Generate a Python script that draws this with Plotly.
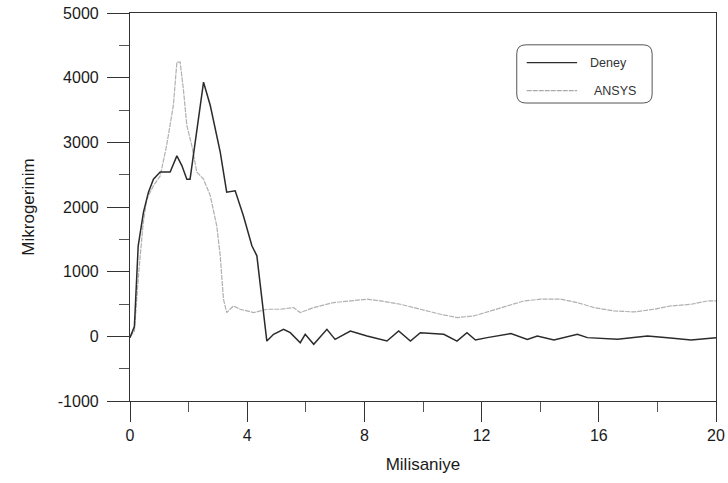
import plotly.graph_objects as go

# ---- data ----
deney_t = [0, 0.15, 0.28, 0.46, 0.63, 0.8, 1.03, 1.37, 1.6, 1.77, 1.94, 2.05, 2.51, 2.74,
           3.08, 3.3, 3.59, 3.87, 4.16, 4.33, 4.67, 4.9, 5.24, 5.47, 5.81, 5.98, 6.27,
           6.72, 7.0, 7.52, 8.09, 8.77, 9.17, 9.57, 9.91, 10.71, 11.16, 11.5, 11.79,
           12.19, 13.0, 13.56, 13.9, 14.47, 15.27, 15.61, 16.64, 17.66, 18.35, 19.15, 20]
deney_v = [-20, 150, 1400, 1920, 2230, 2430, 2540, 2540, 2790, 2640, 2430, 2430, 3930, 3570,
           2850, 2230, 2250, 1865, 1400, 1245, -73, 31, 108, 57, -98, 31, -124,
           108, -47, 82, 5, -73, 82, -73, 57, 31, -73, 57, -57,
           -20, 42, -47, 5, -57, 31, -20, -47, 5, -20, -57, -20]

ansys_t = [0, 0.15, 0.3, 0.45, 0.57, 0.8, 1.03, 1.25, 1.48, 1.6, 1.71, 1.82, 1.94, 2.11,
           2.28, 2.51, 2.74, 2.96, 3.08, 3.19, 3.3, 3.53, 3.76, 4.22, 4.67, 5.13, 5.58,
           5.81, 6.27, 6.95, 7.52, 8.09, 8.55, 9.23, 9.91, 10.6, 11.17, 11.73, 12.31,
           12.88, 13.45, 14.02, 14.7, 15.27, 15.84, 16.52, 17.21, 17.89, 18.46, 19.15,
           19.72, 20]
ansys_v = [0, 80, 1000, 1750, 2120, 2330, 2480, 2950, 3570, 4240, 4240, 3830, 3260, 2950,
           2540, 2430, 2175, 1710, 1245, 574, 367, 470, 419, 367, 419, 419, 445,
           367, 445, 522, 548, 574, 548, 496, 419, 341, 290, 315, 393,
           470, 548, 574, 574, 522, 445, 393, 377, 419, 470, 496,
           548, 548]

x_ticks = [0, 4, 8, 12, 16, 20]
y_ticks = [-1000, 0, 1000, 2000, 3000, 4000, 5000]

fig = go.Figure()
fig.add_trace(go.Scatter(x=ansys_t, y=ansys_v, mode="lines", name="ANSYS",
                         line=dict(color="#b0b0b0", width=1.2, dash="5px,1px")))
fig.add_trace(go.Scatter(x=deney_t, y=deney_v, mode="lines", name="Deney",
                         line=dict(color="#2b2b2b", width=1.5)))

axis_font = dict(family="Liberation Sans, Arial, sans-serif", size=16, color="#1a1a1a")
title_font = dict(family="Liberation Sans, Arial, sans-serif", size=17, color="#1a1a1a")

fig.update_xaxes(range=[0, 20], tickvals=x_ticks, ticktext=[str(v) for v in x_ticks],
                 ticks="outside", ticklen=20, tickwidth=1.2, tickcolor="#333",
                 minor=dict(dtick=2, ticks="outside", ticklen=10, tickwidth=1, tickcolor="#555"),
                 showline=True, linecolor="#333", linewidth=1.2, mirror=True,
                 showgrid=False, zeroline=False, tickfont=axis_font, automargin=False,
                 title=dict(text="Milisaniye", font=title_font, standoff=14))
fig.update_yaxes(range=[-1000, 5000], tickvals=y_ticks, ticktext=[str(v) for v in y_ticks],
                 ticks="outside", ticklen=22, tickwidth=1.2, tickcolor="#333",
                 minor=dict(dtick=500, ticks="outside", ticklen=10, tickwidth=1, tickcolor="#555"),
                 showline=True, linecolor="#333", linewidth=1.2, mirror=True,
                 showgrid=False, zeroline=False, tickfont=axis_font, automargin=False,
                 ticklabelstandoff=5,
                 title=dict(text="Mikrogerinim", font=title_font, standoff=18))

# manual legend with rounded box
x0, x1, y0, y1 = 0.660, 0.891, 0.768, 0.918
rx, ry = 9 / 586, 9 / 388
path = (f"M {x0+rx},{y0} L {x1-rx},{y0} Q {x1},{y0} {x1},{y0+ry} "
        f"L {x1},{y1-ry} Q {x1},{y1} {x1-rx},{y1} L {x0+rx},{y1} "
        f"Q {x0},{y1} {x0},{y1-ry} L {x0},{y0+ry} Q {x0},{y0} {x0+rx},{y0} Z")
shapes = [
    dict(type="path", xref="paper", yref="paper", path=path,
         line=dict(color="#555", width=1), fillcolor="white"),
    dict(type="line", xref="paper", yref="paper", x0=0.677, x1=0.763, y0=0.872, y1=0.872,
         line=dict(color="#2b2b2b", width=1.3)),
    dict(type="line", xref="paper", yref="paper", x0=0.677, x1=0.763, y0=0.800, y1=0.800,
         line=dict(color="#a9a9a9", width=1.3, dash="5px,1px")),
]
leg_font = dict(family="Liberation Sans, Arial, sans-serif", size=12.5, color="#333")
annotations = [
    dict(xref="paper", yref="paper", x=0.816, y=0.872, text="Deney", showarrow=False,
         font=leg_font, xanchor="center", yanchor="middle"),
    dict(xref="paper", yref="paper", x=0.828, y=0.800, text="ANSYS", showarrow=False,
         font=leg_font, xanchor="center", yanchor="middle"),
]

fig.update_layout(width=728, height=483, margin=dict(l=130, r=12, t=13, b=82),
                  plot_bgcolor="white", paper_bgcolor="white", showlegend=False,
                  shapes=shapes, annotations=annotations)

# remove the default 8px page margin so the figure fills the window exactly
fig.write_html("out.html", config={"displayModeBar": False},
               post_script="document.body.style.margin='0';")
